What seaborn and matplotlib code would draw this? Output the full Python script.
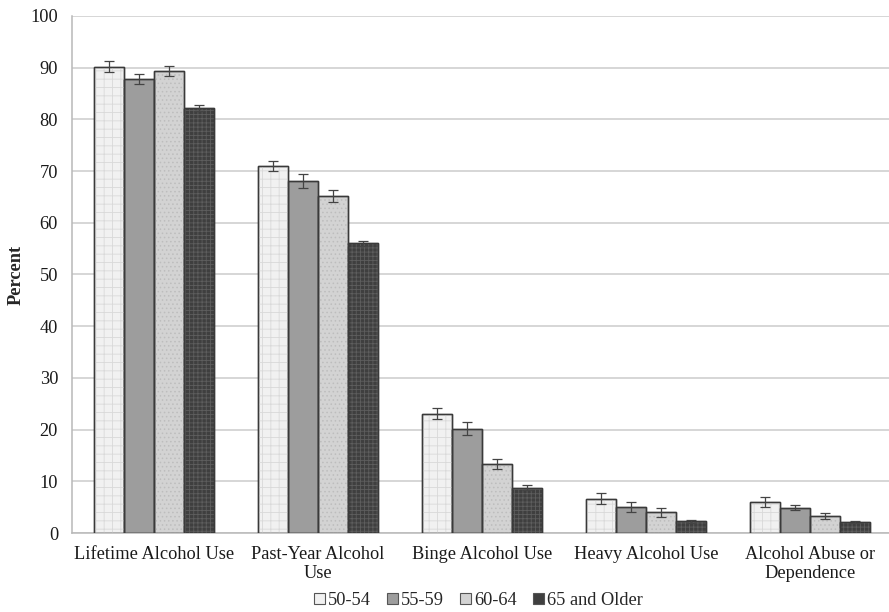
import numpy as np
import pandas as pd
import matplotlib
matplotlib.use("Agg")
import matplotlib.pyplot as plt
import seaborn as sns
from matplotlib.patches import Patch, Rectangle

categories = ["Lifetime Alcohol Use", "Past-Year Alcohol\nUse", "Binge Alcohol Use",
              "Heavy Alcohol Use", "Alcohol Abuse or\nDependence"]
age_groups = ["50-54", "55-59", "60-64", "65 and Older"]

pct_50_54 = [90.2, 71.0, 23.1, 6.6, 6.0]
pct_55_59 = [87.8, 68.1, 20.2, 5.1, 4.9]
pct_60_64 = [89.3, 65.2, 13.4, 4.0, 3.3]
pct_65_up = [82.2, 56.0, 8.8, 2.3, 2.2]

err_50_54 = [1.0, 1.0, 1.05, 1.05, 1.0]
err_55_59 = [1.0, 1.3, 1.2, 1.0, 0.45]
err_60_64 = [1.0, 1.1, 1.0, 0.9, 0.5]
err_65_up = [0.5, 0.5, 0.4, 0.3, 0.2]

values = [pct_50_54, pct_55_59, pct_60_64, pct_65_up]
errors = [err_50_54, err_55_59, err_60_64, err_65_up]

df = pd.DataFrame({
    "category": [c for _ in age_groups for c in categories],
    "age": [a for a in age_groups for _ in categories],
    "pct": [v for series in values for v in series],
})

faces = ["#f1f1f1", "#9d9d9d", "#d3d3d3", "#3f3f3f"]
hatches = ["++", None, "....", "++++"]
hatch_cols = ["#d9d9d9", None, "#bdbdbd", "#5e5e5e"]
EDGE = "#3a3a3a"

sns.set_style("white")
plt.rcParams["font.family"] = ["Liberation Serif", "DejaVu Serif"]
plt.rcParams["hatch.linewidth"] = 0.6

FS = 13.2

fig = plt.figure(figsize=(8.89, 6.12), dpi=100)
ax = fig.add_axes([0.081, 0.129, 0.922, 0.845])

sns.barplot(data=df, x="category", y="pct", hue="age", order=categories,
            hue_order=age_groups, palette=faces, errorbar=None, width=0.73,
            edgecolor=EDGE, linewidth=1.0, saturation=1, ax=ax, zorder=3,
            legend=False)


def texture(target_ax, xy, w, h, i, z):
    """Lay a light hatch texture over a filled rectangle."""
    if hatches[i] is None:
        return None
    r = Rectangle(xy, w, h, facecolor="none", edgecolor=hatch_cols[i], lw=0,
                  hatch=hatches[i], zorder=z)
    target_ax.add_patch(r)
    return r


bar_groups = list(ax.containers)
for i, cont in enumerate(bar_groups):
    for bar, err in zip(cont, errors[i]):
        bar.set_zorder(3)
        texture(ax, (bar.get_x(), 0), bar.get_width(), bar.get_height(), i, 3.1)
        # outline again on top of the texture
        ax.add_patch(Rectangle((bar.get_x(), 0), bar.get_width(), bar.get_height(),
                               facecolor="none", edgecolor=EDGE, lw=1.0, zorder=3.2))
        cx = bar.get_x() + bar.get_width() / 2
        ax.errorbar(cx, bar.get_height(), yerr=err, color="#444444", lw=0.9,
                    capsize=3.5, capthick=0.9, zorder=4)

ax.set_ylim(0, 100)
ax.set_yticks(np.arange(0, 101, 10))
ax.set_xlim(-0.5, len(categories) - 0.5)
ax.yaxis.grid(True, color="#cccccc", lw=1.1, zorder=0)
ax.set_axisbelow(True)
for s in ["top", "right"]:
    ax.spines[s].set_visible(False)
for s in ["left", "bottom"]:
    ax.spines[s].set_color("#b8b8b8")
    ax.spines[s].set_linewidth(1.1)

ax.set_xticks(np.arange(-0.5, len(categories)), minor=True)
ax.tick_params(axis="x", which="major", length=0, labelsize=FS, pad=9, labelcolor="#1a1a1a")
ax.tick_params(axis="x", which="minor", length=5, color="#b8b8b8", width=1)
ax.tick_params(axis="y", length=5, color="#b8b8b8", width=1, labelsize=FS, pad=5,
               labelcolor="#1a1a1a")
ax.set_xlabel("")
ax.set_ylabel("Percent", fontsize=FS, fontweight="bold")
ax.yaxis.set_label_coords(-0.058, 0.5)

handles = [Patch(facecolor=faces[i], edgecolor="#555555", lw=0.8, label=age_groups[i])
           for i in range(4)]
leg = fig.legend(handles=handles, loc="lower center", bbox_to_anchor=(0.538, -0.022),
                 ncol=4, frameon=False, fontsize=FS, handlelength=0.6, handleheight=0.6,
                 handletextpad=0.15, columnspacing=0.9)

fig.savefig("out.png", dpi=100)
